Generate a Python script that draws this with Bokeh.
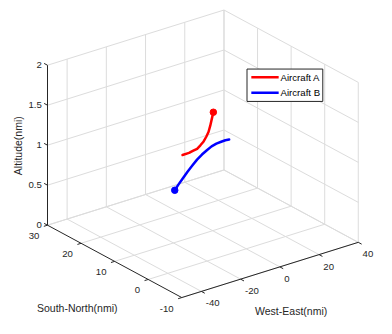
import numpy as np
from bokeh.plotting import figure
from bokeh.models import Range1d
from bokeh.core.properties import value
from bokeh.embed import file_html
from bokeh.resources import INLINE

# ---------------- data ----------------
x_lim = [-50, 40]
y_lim = [-10, 30]
z_lim = [0, 2]
x_ticks = [-40, -20, 0, 20, 40]
y_ticks = [-10, 0, 10, 20, 30]
z_ticks = [0, 0.5, 1, 1.5, 2]
x_tick_labels = ["-40", "-20", "0", "20", "40"]
y_tick_labels = ["-10", "0", "10", "20", "30"]
z_tick_labels = ["0", "0.5", "1", "1.5", "2"]
x_label = "West-East(nmi)"
y_label = "South-North(nmi)"
z_label = "Altitude(nmi)"

a_x = [4.1, 3.6, 3.18, 2.65, 1.98, 1.2, 0.24, -0.75, -1.88, -3.16, -5.1]
a_y = [12.2, 12.4, 12.58, 12.8, 13.07, 13.4, 13.8, 14.2, 14.67, 15.2, 16.0]
a_z = [1.40, 1.31, 1.23, 1.15, 1.09, 1.03, 0.98, 0.935, 0.91, 0.88, 0.85]

b_x = [-7.2, -6.02, -4.73, -3.25, -1.77, -0.31, 1.2, 2.71, 4.17, 5.65, 7.13, 8.42, 9.6]
b_y = [17.1, 16.65, 16.16, 15.6, 15.03, 14.48, 13.9, 13.32, 12.77, 12.2, 11.64, 11.15, 10.7]
b_z = [0.40, 0.475, 0.55, 0.635, 0.715, 0.79, 0.855, 0.91, 0.96, 0.995, 1.02, 1.04, 1.05]

series_names = ["Aircraft A", "Aircraft B"]
series_colors = ["#ff0000", "#0000ff"]

# ---------------- layout ----------------
# The figure (376x318 px) shows the whole 392x334 reference canvas.
W, H = 376, 318
CANVAS_W, CANVAS_H = 392, 334
ORIGIN = (189.0, 312.0)      # canvas position of (xmin, ymin, zmin)
EX = (184.0, -58.0)          # canvas span of the x axis
EY = (-140.0, -76.0)         # canvas span of the y axis
EZ = (0.0, -168.0)           # canvas span of the z axis
FONT = value("Liberation Sans")
AX_COLOR = "#262626"
GRID_COLOR = "#dcdcdc"
TICK_FS = "9.6px"
LABEL_FS = "10.5px"


def proj(x, y, z):
    x = np.asarray(x, float)
    y = np.asarray(y, float)
    z = np.asarray(z, float)
    u = (x - x_lim[0]) / (x_lim[1] - x_lim[0])
    v = (y - y_lim[0]) / (y_lim[1] - y_lim[0])
    w = (z - z_lim[0]) / (z_lim[1] - z_lim[0])
    sx = ORIGIN[0] + u * EX[0] + v * EY[0] + w * EZ[0]
    sy = ORIGIN[1] + u * EX[1] + v * EY[1] + w * EZ[1]
    return sx, sy


def unit(vec, length):
    n = np.hypot(vec[0], vec[1])
    return (vec[0] / n * length, vec[1] / n * length)


p = figure(width=W, height=H, x_range=Range1d(0, CANVAS_W), y_range=Range1d(CANVAS_H, 0),
           output_backend="svg", toolbar_location=None, min_border=0,
           x_axis_type=None, y_axis_type=None)
p.outline_line_color = None
p.background_fill_color = "white"
p.border_fill_color = "white"

x0, x1 = x_lim
y0, y1 = y_lim
z0, z1 = z_lim

# ---- grid lines on floor and back walls ----
gx, gy = [], []


def seg(pa, pb, xs=gx, ys=gy):
    sx, sy = proj([pa[0], pb[0]], [pa[1], pb[1]], [pa[2], pb[2]])
    xs.append(list(sx))
    ys.append(list(sy))


for xt in x_ticks:
    seg((xt, y0, z0), (xt, y1, z0))
    seg((xt, y1, z0), (xt, y1, z1))
for yt in y_ticks:
    seg((x0, yt, z0), (x1, yt, z0))
    seg((x1, yt, z0), (x1, yt, z1))
for zt in z_ticks:
    seg((x0, y1, zt), (x1, y1, zt))
    seg((x1, y0, zt), (x1, y1, zt))
p.multi_line(gx, gy, line_color=GRID_COLOR, line_width=1)

# ---- axis lines ----
ax_x, ax_y = [], []
seg((x0, y1, z0), (x0, y1, z1), ax_x, ax_y)   # z axis
seg((x0, y0, z0), (x0, y1, z0), ax_x, ax_y)   # y axis
seg((x0, y0, z0), (x1, y0, z0), ax_x, ax_y)   # x axis

# ---- tick marks ----
TL = 4.0
dz = unit(EY, TL)                      # z ticks point along +y
dy = unit((-EX[0], -EX[1]), TL)        # y ticks point along -x
dx = unit((-EY[0], -EY[1]), TL)        # x ticks point along -y

zsx, zsy = proj([x0] * len(z_ticks), [y1] * len(z_ticks), z_ticks)
ysx, ysy = proj([x0] * len(y_ticks), y_ticks, [z0] * len(y_ticks))
xsx, xsy = proj(x_ticks, [y0] * len(x_ticks), [z0] * len(x_ticks))
for sx, sy, d in ([zsx, zsy, dz], [ysx, ysy, dy], [xsx, xsy, dx]):
    for a, b in zip(sx, sy):
        ax_x.append([a, a + d[0]])
        ax_y.append([b, b + d[1]])
p.multi_line(ax_x, ax_y, line_color=AX_COLOR, line_width=1)

# ---- tick labels ----
common = dict(text_font=FONT, text_font_size=TICK_FS, text_color=AX_COLOR,
              text_baseline="middle")
p.text(x=list(zsx - 6), y=list(zsy), text=z_tick_labels, text_align="right", **common)
p.text(x=list(ysx - 8.5), y=list(ysy + 11.5), text=y_tick_labels, text_align="right", **common)
p.text(x=list(xsx + 4.5), y=list(xsy + 12.5), text=x_tick_labels, text_align="left", **common)

# ---- axis titles ----
lab = dict(text_font=FONT, text_font_size=LABEL_FS, text_color=AX_COLOR,
           text_baseline="middle", text_align="center")
p.text(x=[18], y=[152.5], text=[z_label], angle=np.pi / 2, **lab)
p.text(x=[80], y=[323], text=[y_label], **lab)
p.text(x=[303], y=[326], text=[x_label], **lab)

# ---- trajectories ----
for (xs, ys, zs), c in zip([(a_x, a_y, a_z), (b_x, b_y, b_z)], series_colors):
    sx, sy = proj(xs, ys, zs)
    p.line(list(sx), list(sy), line_color=c, line_width=2.5,
           line_cap="round", line_join="round")
    p.scatter([sx[0]], [sy[0]], size=6.5, fill_color=c, line_color=c)

# ---- legend ----
LB = (257, 336, 72, 106)   # left, right, top, bottom
p.quad(left=[LB[0]], right=[LB[1]], top=[LB[2]], bottom=[LB[3]],
       fill_color="white", line_color=AX_COLOR, line_width=1)
rows = [80.5, 97]
for name, c, ry in zip(series_names, series_colors, rows):
    p.line([261.5, 290], [ry, ry], line_color=c, line_width=2.5)
    p.text(x=[292], y=[ry], text=[name], text_font=FONT, text_font_size=TICK_FS,
           text_color="#000000", text_baseline="middle", text_align="left")

open("out.html", "w").write(file_html(p, INLINE))
